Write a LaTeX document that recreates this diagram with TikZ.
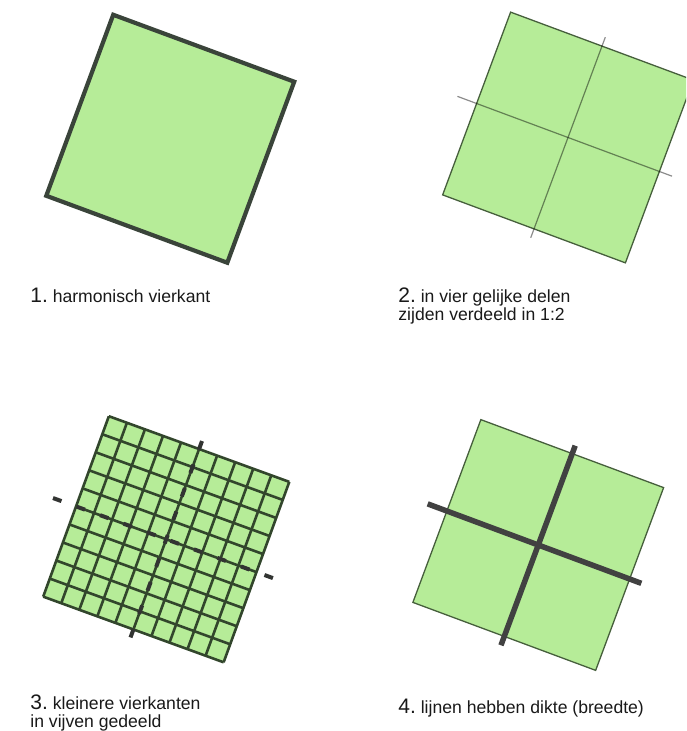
\documentclass[tikz,border=0pt]{standalone}
\usepackage{fontspec}
\setmainfont{Liberation Sans}
\definecolor{sqfill}{RGB}{182,236,152}
\definecolor{edgedark}{RGB}{58,68,58}
\definecolor{gridc}{RGB}{50,70,44}
\definecolor{edgegreen}{RGB}{70,95,60}
\definecolor{crossc}{RGB}{65,65,65}
\definecolor{dashc}{RGB}{50,52,50}
\definecolor{txt}{RGB}{25,25,25}
\newcommand\numfont{\fontsize{10.5}{12}\selectfont}
\tikzset{
  sqthick/.style={fill=sqfill, draw=edgedark, line width=2.1pt, line join=miter},
  sqthin/.style={fill=sqfill, draw=edgegreen, line width=0.65pt},
  halfline/.style={draw=black, draw opacity=0.45, line width=0.6pt},
  gridline/.style={draw=gridc, line width=1.3pt},
  dashmark/.style={draw=dashc, line width=2pt},
  crossline/.style={draw=crossc, line width=2.75pt},
  lbl/.style={anchor=base west, inner sep=0pt, text=txt, font=\fontsize{8.8}{9}\selectfont},
}
\begin{document}
\begin{tikzpicture}[x=0.5pt,y=-0.5pt]
\useasboundingbox (0,0) rectangle (686,731);
\clip (0,0) rectangle (686,731);

% 1. harmonisch vierkant
\begin{scope}[shift={(170.25,138.75)},rotate=-20.3]
  \path[sqthick] (-96.5,-96.5) rectangle (96.5,96.5);
\end{scope}

% 2. in vier gelijke delen
\begin{scope}[shift={(568,137.5)},rotate=-20.4]
  \path[sqthin] (-97.5,-97.5) rectangle (97.5,97.5);
  \path[halfline] (0,-107) -- (0,107);
  \path[halfline] (-118,0) -- (111,0);
\end{scope}

% 3. kleinere vierkanten
\begin{scope}[shift={(166.25,539.25)},rotate=-20]
  \path[fill=sqfill] (-96,-96) rectangle (96,96);
  \foreach \i in {0,...,10}{
    \path[gridline] ({-96+19.2*\i},-96) -- ({-96+19.2*\i},96);
    \path[gridline] (-96,{-96+19.2*\i}) -- (96,{-96+19.2*\i});
  }
  \foreach \k in {-4,...,4}{
    \path[dashmark] (0,{25*\k-4.5}) -- (0,{25*\k+4.5});
  }
  \foreach \k in {0,...,9}{
    \path[dashmark] ({-116+25*\k-4.5},0) -- ({-116+25*\k+4.5},0);
  }
\end{scope}

% 4. lijnen hebben dikte
\begin{scope}[shift={(538.25,545)},rotate=-20.4]
  \path[sqthin] (-97.5,-97.5) rectangle (97.5,97.5);
  \path[crossline] (0,-106) -- (0,107);
  \path[crossline] (-118,0) -- (110,0);
\end{scope}

% labels
\node[lbl] (l1) at (30,303) {{\numfont 1.}\ harmonisch vierkant};
\node[lbl] (l2a) at (398,303) {{\numfont 2.}\ in vier gelijke delen};
\node[lbl] (l2b) at (398,321) {zijden verdeeld in 1:2};
\node[lbl] (l3a) at (30,709) {{\numfont 3.}\ kleinere vierkanten};
\node[lbl] (l3b) at (30,727) {in vijven gedeeld};
\node[lbl] (l4) at (398,713) {{\numfont 4.}\ lijnen hebben dikte (breedte)};
\end{tikzpicture}
\end{document}
